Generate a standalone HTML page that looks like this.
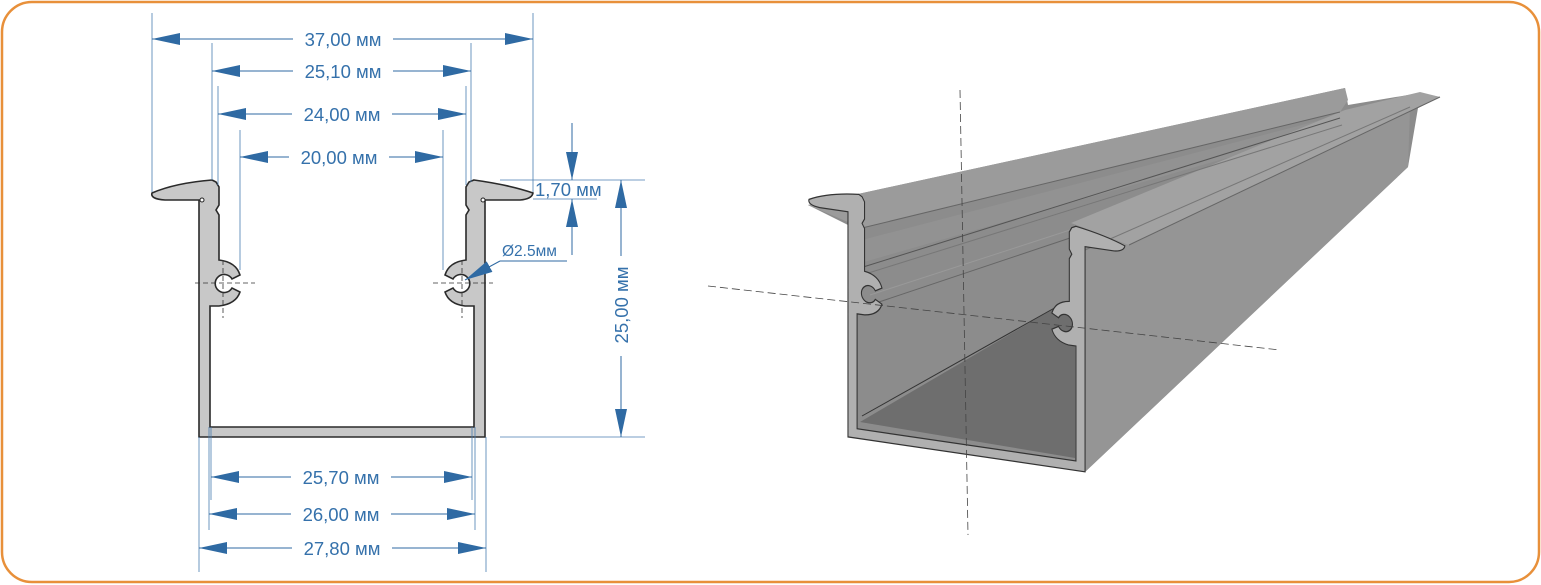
<!DOCTYPE html>
<html><head><meta charset="utf-8"><style>
html,body{margin:0;padding:0;background:#fff;}
svg{display:block;}
text{font-family:"Liberation Sans",sans-serif;font-size:18.5px;fill:#3571ab;}
</style></head><body>
<svg width="1541" height="585" viewBox="0 0 1541 585" xmlns="http://www.w3.org/2000/svg">
<defs>
<marker id="a" viewBox="0 0 28 12" refX="28" refY="6" markerWidth="28" markerHeight="12" markerUnits="userSpaceOnUse" orient="auto-start-reverse"><path d="M0,0 L28,6 L0,12 Z" fill="#2f6aa3"/></marker>
<path id="prof" d="M152,193 Q175,183 212,180 L216,182 L219,187 L219,205 L216,210 L219,215 L219,260 Q236,262 240,275 L232,279 A9,9 0 1 0 232,288 L240,292 Q236,304 219,306 L210,306 L210,427 L474,427 L474,306 L465,306 Q449,304 445,292 L453,288 A9,9 0 1 0 453,279 L445,275 Q449,262 466,260 L466,215 L469,210 L466,205 L466,187 L469,182 L474,180 Q510,185 533,193 Q532,199 520,200 L485,200 L485,437 L199,437 L199,200 L165,200 Q150,199 152,193 Z"/>
</defs>
<rect x="2" y="2" width="1537" height="580" rx="30" fill="#fff" stroke="#e8903a" stroke-width="2.5"/>

<!-- 3D view -->
<polygon points="808,205 858,194 1345,88 1348,105 1420,93 1440,97 1418,108 1408,167 1085,472 848,437 848,225" fill="#8c8c8c"/>
<polygon points="808,205 858,194 1345,88 1348,100 1340,112 862,228" fill="#9b9b9b"/>
<polygon points="862,240 1340,115 1342,125 864,262" fill="#929292"/>
<polygon points="860,422 1075,458 1075,318 1058,306" fill="#6e6e6e"/>
<line x1="862" y1="416" x2="1058" y2="306" stroke="#333" stroke-width="1"/>
<polygon points="1085,250 1410,107 1408,167 1085,472" fill="#959595"/>
<polygon points="1071,223 1129,245 1440,97 1420,92 1345,110" fill="#a2a2a2"/>
<line x1="1129" y1="245" x2="1440" y2="97" stroke="#666" stroke-width="1"/>
<line x1="1085" y1="250" x2="1410" y2="107" stroke="#777" stroke-width="1"/>
<line x1="862" y1="228" x2="1340" y2="112" stroke="#666" stroke-width="1"/>
<line x1="860" y1="268" x2="1340" y2="118" stroke="#555" stroke-width="1"/>
<line x1="862" y1="275" x2="1342" y2="125" stroke="#777" stroke-width="1"/>
<line x1="870" y1="305" x2="1070" y2="238" stroke="#666" stroke-width="1"/>
<line x1="870" y1="295" x2="1070" y2="230" stroke="#999" stroke-width="1"/>
<use href="#prof" transform="matrix(0.829,0.122,0,0.95,683,-2.5)" fill="#b0b0b0" stroke="#333" stroke-width="1.3"/>
<line x1="960" y1="90" x2="968" y2="535" stroke="#444" stroke-width="0.8" stroke-dasharray="8,4"/>
<line x1="708" y1="286" x2="1280" y2="350" stroke="#444" stroke-width="0.8" stroke-dasharray="8,4"/>

<!-- 2D profile -->
<use href="#prof" fill="#c8c8c8" stroke="#2a2a2a" stroke-width="1.6"/>
<circle cx="202" cy="200" r="2" fill="#fff" stroke="#222"/>
<circle cx="483" cy="200" r="2" fill="#fff" stroke="#222"/>
<g stroke="#333" stroke-width="0.8" stroke-dasharray="5,3">
<line x1="195" y1="283" x2="255" y2="283"/><line x1="223" y1="260" x2="223" y2="318"/>
<line x1="433" y1="283" x2="493" y2="283"/><line x1="462" y1="260" x2="462" y2="318"/>
</g>

<!-- extension lines -->
<g stroke="#4a7db0" stroke-width="0.8">
<line x1="152" y1="13" x2="152" y2="192"/><line x1="533" y1="13" x2="533" y2="192"/>
<line x1="212" y1="43" x2="212" y2="180"/><line x1="471" y1="43" x2="471" y2="182"/>
<line x1="218" y1="86" x2="218" y2="185"/><line x1="466" y1="86" x2="466" y2="185"/>
<line x1="240" y1="130" x2="240" y2="270"/><line x1="443" y1="130" x2="443" y2="270"/>
<line x1="500" y1="180" x2="645" y2="180"/><line x1="533" y1="199" x2="597" y2="199"/>
<line x1="500" y1="437" x2="645" y2="437"/>
<line x1="199" y1="437" x2="199" y2="572"/><line x1="486" y1="437" x2="486" y2="572"/>
<line x1="209" y1="427" x2="209" y2="530"/><line x1="475" y1="427" x2="475" y2="530"/>
<line x1="211" y1="427" x2="211" y2="500"/><line x1="472" y1="427" x2="472" y2="500"/>
</g>

<!-- dimension lines -->
<g stroke="#2f6aa3" stroke-width="1" marker-start="url(#a)" marker-end="url(#a)">
<line x1="152" y1="39" x2="533" y2="39"/>
<line x1="212" y1="71" x2="471" y2="71"/>
<line x1="218" y1="114" x2="466" y2="114"/>
<line x1="240" y1="157" x2="443" y2="157"/>
<line x1="211" y1="477" x2="472" y2="477"/>
<line x1="209" y1="514" x2="475" y2="514"/>
<line x1="199" y1="548" x2="486" y2="548"/>
<line x1="621" y1="180" x2="621" y2="437"/>
</g>
<g stroke="#2f6aa3" stroke-width="1">
<line x1="572" y1="123" x2="572" y2="180" marker-end="url(#a)"/>
<line x1="572" y1="255" x2="572" y2="199" marker-end="url(#a)"/>
<line x1="567" y1="261" x2="500" y2="261"/>
<line x1="500" y1="261" x2="465" y2="280" marker-end="url(#a)"/>
</g>

<!-- labels -->
<g>
<rect x="293" y="29" width="100" height="20" fill="#fff"/><text x="343" y="46" text-anchor="middle">37,00 мм</text>
<rect x="293" y="61" width="100" height="20" fill="#fff"/><text x="343" y="78" text-anchor="middle">25,10 мм</text>
<rect x="292" y="104" width="100" height="20" fill="#fff"/><text x="342" y="121" text-anchor="middle">24,00 мм</text>
<rect x="289" y="147" width="100" height="20" fill="#fff"/><text x="339" y="164" text-anchor="middle">20,00 мм</text>
<rect x="291" y="467" width="100" height="20" fill="#fff"/><text x="341" y="484" text-anchor="middle">25,70 мм</text>
<rect x="291" y="504" width="100" height="20" fill="#fff"/><text x="341" y="521" text-anchor="middle">26,00 мм</text>
<rect x="292" y="538" width="100" height="20" fill="#fff"/><text x="342" y="555" text-anchor="middle">27,80 мм</text>
<text x="535" y="196">1,70 мм</text>
<text x="502" y="256" style="font-size:15.5px">Ø2.5мм</text>
<rect x="610" y="256" width="22" height="100" fill="#fff"/>
<text x="0" y="0" text-anchor="middle" transform="translate(628,305) rotate(-90)">25,00 мм</text>
</g>
</svg>
</body></html>
